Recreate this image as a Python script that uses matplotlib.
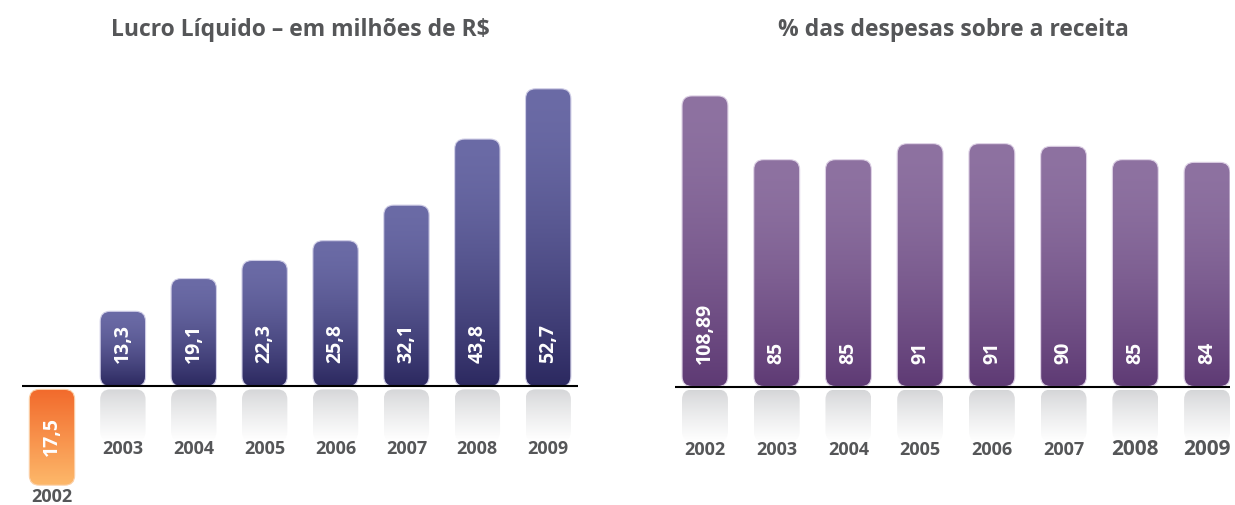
import numpy as np
import matplotlib
matplotlib.use("Agg")
import matplotlib.pyplot as plt
from matplotlib.patches import FancyBboxPatch
from matplotlib.colors import to_rgb
from matplotlib.transforms import ScaledTranslation

# Dados
anos = ["2002", "2003", "2004", "2005", "2006", "2007", "2008", "2009"]
lucro_liquido = [-17.5, 13.3, 19.1, 22.3, 25.8, 32.1, 43.8, 52.7]  # milhões de R$
despesas_receita = [108.89, 85, 85, 91, 91, 90, 85, 84]  # % sobre a receita

plt.rcParams['font.family'] = ['Open Sans', 'DejaVu Sans']

W, H = 1235, 506
fig = plt.figure(figsize=(W / 100, H / 100), dpi=100)
CINZA = '#555658'


def rotulo(v):
    # vírgula decimal, sem sinal
    return ("%g" % abs(v)).replace(".", ",")


def gradiente(ax, x0, x1, y0, y1, c_topo, c_base, clip, z, curva=1.0):
    t = np.linspace(0, 1, 256) ** curva
    c0, c1 = np.array(to_rgb(c_topo)), np.array(to_rgb(c_base))
    img = (c0 + (c1 - c0) * t[:, None])[:, None, :]
    im = ax.imshow(img, extent=(x0, x1, y0, y1), aspect='auto', origin='upper',
                   interpolation='bilinear', zorder=z)
    im.set_clip_path(clip)


def painel(rect, xlim, ylim, valores, cor_topo, cor_base, cor_borda, tam_anos):
    ax = fig.add_axes(rect)
    ax.axis('off')
    px_x = rect[2] * W / (xlim[1] - xlim[0])
    px_y = rect[3] * H / (ylim[1] - ylim[0])
    asp = px_x / px_y
    raio = 10 / px_x
    larg = 0.64
    estilo = f"round,pad=0,rounding_size={raio}"
    fundo_reflexo = 52 / px_y
    folga = 3 / px_y
    sobe = ScaledTranslation(0, 24 / 100, fig.dpi_scale_trans)

    for i, v in enumerate(valores):
        x0 = i - larg / 2
        if v >= 0:
            barra = FancyBboxPatch((x0, 0), larg, v, boxstyle=estilo, mutation_aspect=asp,
                                   fc='none', ec=cor_borda, lw=0.8, zorder=3)
            ax.add_patch(barra)
            gradiente(ax, x0, x0 + larg, 0, v, cor_topo, cor_base, barra, 2, curva=1.6)
            # reflexo cinza abaixo da linha de base
            refl = FancyBboxPatch((x0, -folga - fundo_reflexo), larg, fundo_reflexo,
                                  boxstyle=estilo, mutation_aspect=asp,
                                  fc='none', ec='none', zorder=1)
            ax.add_patch(refl)
            gradiente(ax, x0, x0 + larg, -folga - fundo_reflexo, -folga,
                      '#d4d5d7', '#ffffff', refl, 1, curva=0.8)
            ax.text(i, 0, rotulo(v), rotation=90, ha='center', va='bottom', color='white',
                    fontsize=14, fontweight='bold', zorder=5,
                    transform=ax.transData + sobe)
            ax.annotate(anos[i], xy=(i, 0), xytext=(0, -62), textcoords='offset pixels',
                        ha='center', va='center', color=CINZA, fontsize=tam_anos[i],
                        fontweight='bold')
        else:
            barra = FancyBboxPatch((x0, v), larg, -v - folga, boxstyle=estilo,
                                   mutation_aspect=asp, fc='none', ec='#fbd0a8', lw=0.8, zorder=3)
            ax.add_patch(barra)
            gradiente(ax, x0, x0 + larg, v, -folga, '#f26a2c', '#fdb86a', barra, 2)
            ax.text(i, v / 2, rotulo(v), rotation=90, ha='center', va='center', color='white',
                    fontsize=14, fontweight='bold', zorder=5)
            ax.annotate(anos[i], xy=(i, v), xytext=(0, -2), textcoords='offset pixels',
                        ha='center', va='top', color=CINZA, fontsize=tam_anos[i],
                        fontweight='bold')

    ax.axhline(0, color='black', lw=1.5, zorder=4)
    ax.set_xlim(*xlim)
    ax.set_ylim(*ylim)
    return ax


painel([22 / W, 0, 556 / W, 1], (-0.423, 7.42), (-21.0, 68.6), lucro_liquido,
       '#6b6ba6', '#2c2960', '#cfcde6', [13] * 8)
painel([675 / W, 0, 555 / W, 1], (-0.418, 7.32), (-44.4, 145.2), despesas_receita,
       '#8e72a1', '#5e3a74', '#dccfe4', [13] * 6 + [15, 15])

fig.text(300 / W, 1 - 30 / H, "Lucro Líquido – em milhões de R$", ha='center', va='center',
         fontsize=16.5, fontweight='bold', color=CINZA)
fig.text(953 / W, 1 - 30 / H, "% das despesas sobre a receita", ha='center', va='center',
         fontsize=16.5, fontweight='bold', color=CINZA)

fig.savefig("out.png", dpi=100, facecolor='white')
